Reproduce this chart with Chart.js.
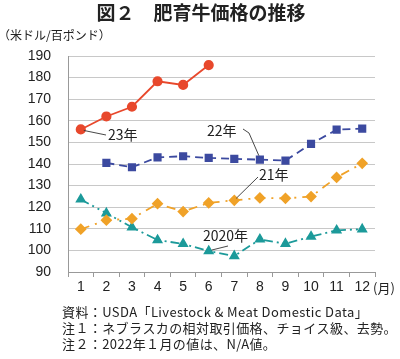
<!DOCTYPE html>
<html><head><meta charset="utf-8">
<script src="https://cdn.jsdelivr.net/npm/chart.js@4/dist/chart.umd.min.js"></script>
<style>html,body{margin:0;padding:0;background:#fff}#wrap{width:400px;height:359px;position:relative}</style>
</head><body><div id="wrap"><canvas id="c" width="400" height="359"></canvas></div>
<script>
const months = ['1','2','3','4','5','6','7','8','9','10','11','12'];
const y2023 = [156, 162, 166.5, 178.3, 176.6, 185.8, null, null, null, null, null, null];
const y2022 = [null, 140.5, 138.5, 143.1, 143.6, 142.8, 142.4, 142.0, 141.6, 149.3, 155.9, 156.4];
const y2021 = [109.8, 114.0, 114.7, 121.6, 118.0, 122.0, 123.2, 124.3, 124.1, 124.9, 133.8, 140.3];
const y2020 = [123.6, 117.2, 110.7, 104.8, 103.0, 99.7, 97.4, 105.1, 103.1, 106.4, 109.3, 109.8];
const yTicks = [90,100,110,120,130,140,150,160,170,180,190];

const JP = '"Noto Sans CJK JP", "Noto Sans", sans-serif';
const NUM = '"Liberation Sans", Arial, sans-serif';

const textPlugin = {
  id: 'texts',
  afterDraw(chart) {
    const ctx = chart.ctx;
    const x = chart.scales.x, y = chart.scales.y;
    ctx.save();
    ctx.fillStyle = '#222';
    ctx.textBaseline = 'middle';
    ctx.font = 'bold 19px ' + JP;
    ctx.textAlign = 'center';
    ctx.fillText('図２　肥育牛価格の推移', 201, 13);
    ctx.font = '12px ' + JP;
    ctx.textAlign = 'left';
    ctx.fillText('（米ドル/百ポンド）', -2, 35);
    ctx.font = '13px ' + JP;
    ctx.fillText('(月)', 373, 288);
    ctx.font = '13px ' + JP;
    ctx.letterSpacing = '0.4px';
    ctx.fillText('資料：USDA「Livestock & Meat Domestic Data」', 62, 312);
    ctx.fillText('注１：ネブラスカの相対取引価格、チョイス級、去勢。', 62, 328);
    ctx.fillText('注２：2022年１月の値は、N/A値。', 62, 344);
    ctx.letterSpacing = '0px';
    ctx.strokeStyle = '#333';
    ctx.lineWidth = 0.9;
    const px = (i) => x.getPixelForValue(i);
    const py = (v) => y.getPixelForValue(v);
    ctx.beginPath();
    ctx.moveTo(px(0) + 3, py(y2023[0]) + 1);
    ctx.lineTo(106, 135);
    ctx.moveTo(243, 129);
    ctx.lineTo(249, 133);
    ctx.lineTo(px(7) - 1, py(y2022[7]) - 4);
    ctx.moveTo(258, 177);
    ctx.lineTo(px(6) + 2, py(y2021[6]) - 2);
    ctx.moveTo(228, 246);
    ctx.lineTo(px(5) + 3, py(y2020[5]) - 1);
    ctx.stroke();
    ctx.font = '14px ' + JP;
    ctx.fillText('23年', 108, 135);
    ctx.fillText('22年', 207, 131);
    ctx.fillText('21年', 259, 175);
    ctx.fillText('2020年', 203, 236);
    ctx.restore();
  }
};

new Chart(document.getElementById('c'), {
  type: 'line',
  data: {
    labels: months,
    datasets: [
      { label: '2023', data: y2023, borderColor: '#e8482c', backgroundColor: '#e8482c', borderWidth: 1.8, pointStyle: 'circle', pointRadius: 4.2, spanGaps: false },
      { label: '2022', data: y2022, borderColor: '#3c4aa0', backgroundColor: '#3c4aa0', borderWidth: 1.8, borderDash: [8, 5], pointStyle: 'rect', pointRadius: 4.5 },
      { label: '2021', data: y2021, borderColor: '#f0a228', backgroundColor: '#f0a228', borderWidth: 1.8, borderDash: [9, 6, 2, 6], pointStyle: 'rectRot', pointRadius: 4.6 },
      { label: '2020', data: y2020, borderColor: '#1c9a9a', backgroundColor: '#1c9a9a', borderWidth: 1.8, borderDash: [9, 4, 2, 4, 2, 4], pointStyle: 'triangle', pointRadius: 4.6 }
    ]
  },
  options: {
    responsive: false,
    animation: false,
    layout: { padding: { top: 56, right: 25, left: 0, bottom: 0 } },
    plugins: { legend: { display: false }, tooltip: { enabled: false } },
    elements: { line: { tension: 0 } },
    scales: {
      x: {
        offset: true,
        grid: { offset: true, drawOnChartArea: false, drawTicks: true, tickLength: 5, color: '#999' },
        border: { color: '#999' },
        ticks: { font: { size: 14, family: NUM }, color: '#222', padding: 2, maxRotation: 0, autoSkip: false },
        afterFit(s) { s.height = 87; }
      },
      y: {
        min: 90, max: 190,
        afterBuildTicks(s) { s.ticks = yTicks.map(v => ({ value: v })); },
        grid: { color: '#c8c8c8', drawTicks: false, lineWidth: 1 },
        border: { color: '#999' },
        ticks: { font: { size: 14, family: NUM }, color: '#222', padding: 17 },
        afterFit(s) { s.width = 68; }
      }
    }
  },
  plugins: [textPlugin]
});
</script></body></html>
